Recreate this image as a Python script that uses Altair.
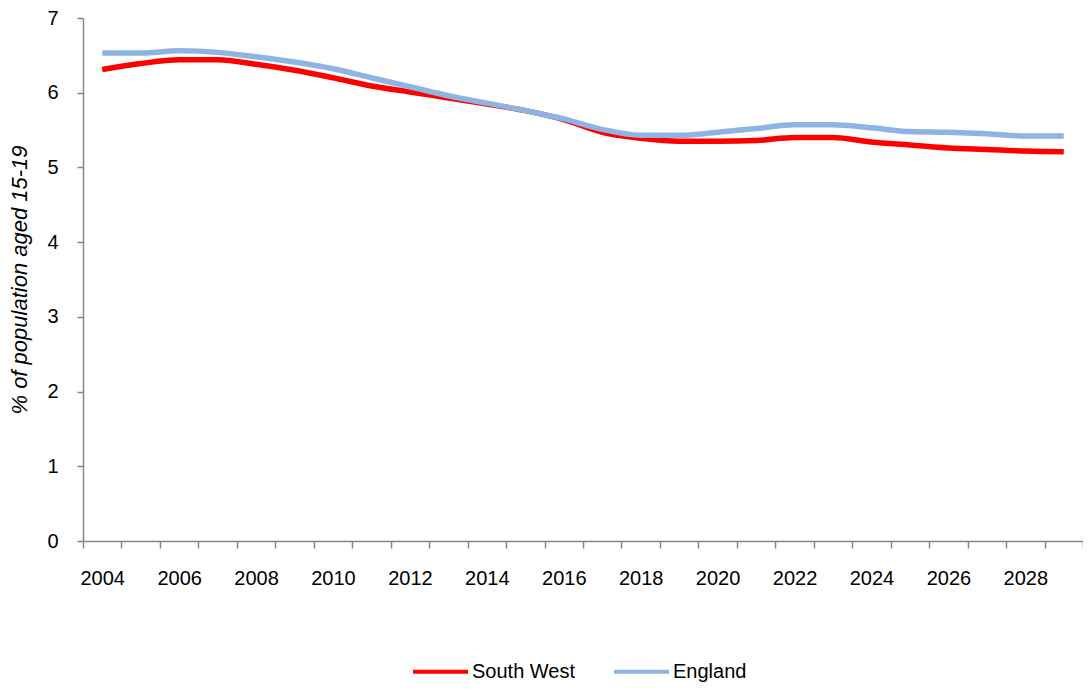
import altair as alt
import pandas as pd

years = list(range(2004, 2030))
england = [6.53, 6.53, 6.56, 6.54, 6.48, 6.41, 6.32, 6.20, 6.08, 5.96, 5.86, 5.76, 5.65,
           5.51, 5.43, 5.43, 5.47, 5.52, 5.57, 5.57, 5.53, 5.48, 5.47, 5.45, 5.42, 5.42]
south_west = [6.31, 6.39, 6.44, 6.44, 6.38, 6.30, 6.20, 6.09, 6.01, 5.93, 5.85, 5.76, 5.64,
              5.47, 5.39, 5.35, 5.35, 5.36, 5.40, 5.40, 5.34, 5.30, 5.26, 5.24, 5.22, 5.21]
series_names = ["South West", "England"]
series_colors = ["#FF0000", "#8DB4E2"]

df = pd.DataFrame(
    [{"year": y, "value": v, "region": "South West"} for y, v in zip(years, south_west)]
    + [{"year": y, "value": v, "region": "England"} for y, v in zip(years, england)]
)

W, H = 1000, 523
n = len(years)
tick_vals = [years[0] - 0.5 + i for i in range(n + 1)]

x_enc = alt.X(
    "year:Q",
    scale=alt.Scale(domain=[years[0] - 0.5, years[-1] + 0.5], nice=False, zero=False),
    axis=alt.Axis(
        values=tick_vals,
        labelExpr=f"((datum.value % 2) == 1.5 && datum.value < {years[-1]}) ? format(datum.value + 0.5, 'd') : ''",
        labelOffset=W / n / 2,
        labelOverlap=False,
        labelBound=False,
        labelFlush=False,
        grid=False,
        tickSize=7,
        labelPadding=20,
        title=None,
    ),
)
y_enc = alt.Y(
    "value:Q",
    scale=alt.Scale(domain=[0, 7], nice=False),
    axis=alt.Axis(
        values=list(range(0, 8)),
        grid=False,
        tickSize=6,
        labelPadding=19,
        title="% of population aged 15-19",
        titleFontStyle="italic",
        titleFontWeight="normal",
        titleFontSize=22,
        titlePadding=15,
    ),
)
color_enc = alt.Color(
    "region:N",
    scale=alt.Scale(domain=series_names, range=series_colors),
    legend=alt.Legend(
        title=None,
        orient="none",
        direction="horizontal",
        legendX=328,
        legendY=624,
        symbolType="stroke",
        symbolSize=3025,
        symbolStrokeWidth=4,
        labelFontSize=20,
        labelOffset=2,
        columnPadding=30,
        padding=0,
    ),
)

base = alt.Chart(df)
sw = base.transform_filter(alt.datum.region == "South West").mark_line(
    strokeWidth=5.5, interpolate="monotone"
).encode(x=x_enc, y=y_enc, color=color_enc)
en = base.transform_filter(alt.datum.region == "England").mark_line(
    strokeWidth=5.5, interpolate="monotone"
).encode(x=x_enc, y=y_enc, color=color_enc)

chart = alt.layer(sw, en).properties(
    width=W,
    height=H,
    autosize=alt.AutoSizeParams(type="none"),
    padding={"left": 75, "top": 10, "right": 0, "bottom": 144},
).configure(
    font="Liberation Sans"
).configure_view(
    stroke=None
).configure_axis(
    labelFont="Liberation Sans",
    titleFont="Liberation Sans",
    labelFontSize=20,
    labelColor="#000000",
    titleColor="#000000",
    domainColor="#868686",
    tickColor="#868686",
    domainWidth=1.5,
    tickWidth=1.5,
).configure_legend(
    labelFont="Liberation Sans",
    labelColor="#000000",
)

chart.save("out.html", embed_options={"renderer": "svg", "actions": False})
